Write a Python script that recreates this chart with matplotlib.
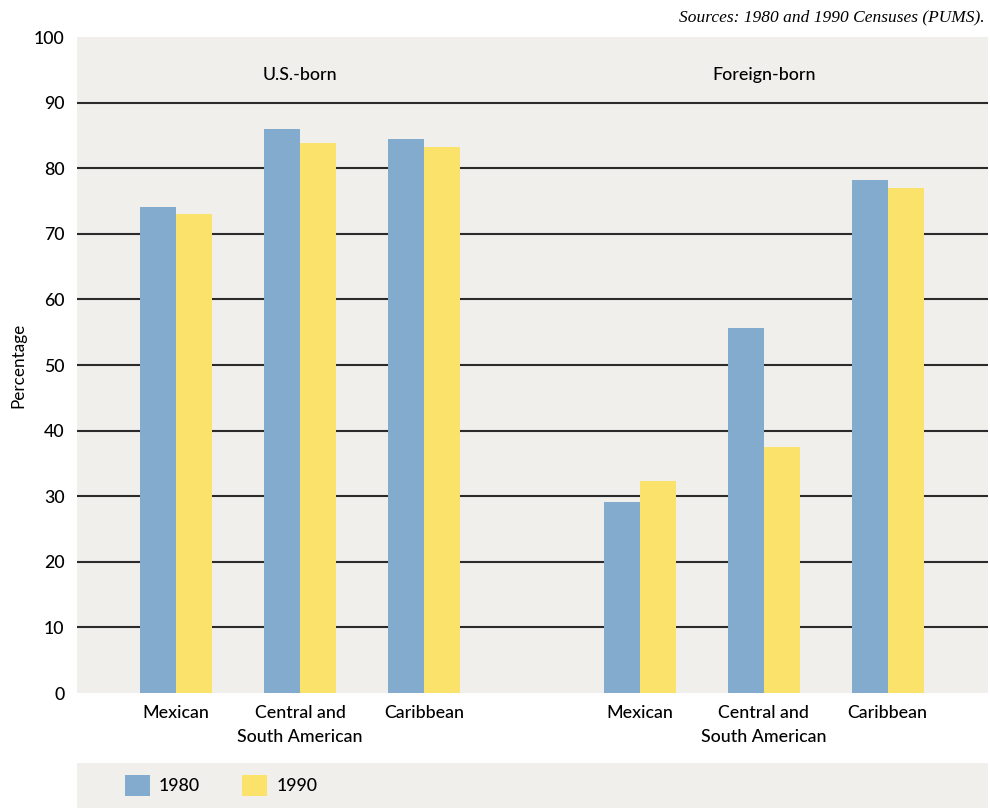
import matplotlib
matplotlib.use('Agg')
import matplotlib.pyplot as plt
import numpy as np

plt.rcParams['font.family'] = ['Lato', 'DejaVu Sans']
plt.rcParams['font.weight'] = 'medium'

groups = ['U.S.-born', 'Foreign-born']
categories = ['Mexican', 'Central and\nSouth American', 'Caribbean']
years = ['1980', '1990']
us_1980 = [74.1, 86.0, 84.5]
us_1990 = [73.0, 83.8, 83.2]
fb_1980 = [29.1, 55.6, 78.2]
fb_1990 = [32.3, 37.5, 77.0]

blue = '#82abcd'
yellow = '#fbe26a'
bg = '#f0efeb'

# category centres: two groups of three with a wider gap between them
pos = np.array([0, 1, 2, 3.74, 4.74, 5.74])
vals_1980 = us_1980 + fb_1980
vals_1990 = us_1990 + fb_1990
w = 0.29

fig = plt.figure(figsize=(9.9, 8.08), dpi=100)
ax = fig.add_axes([77/990, 115/808, 911/990, 656/808])
ax.set_facecolor(bg)

ax.hlines(np.arange(10, 100, 10), -0.8, 6.55, color='#2b2b2b', lw=1.5, zorder=1)
b1 = ax.bar(pos - w/2, vals_1980, w, color=blue, zorder=2, label=years[0])
b2 = ax.bar(pos + w/2, vals_1990, w, color=yellow, zorder=2, label=years[1])

ax.set_xlim(-0.8, 6.55)
ax.set_ylim(0, 100)
ax.set_yticks(np.arange(0, 101, 10))
ax.set_xticks(pos)
ax.set_xticklabels(categories * 2, fontsize=12.8, linespacing=1.55)
ax.tick_params(axis='both', length=0, labelsize=12.8)
ax.tick_params(axis='y', pad=9)
ax.tick_params(axis='x', pad=9)
for s in ax.spines.values():
    s.set_visible(False)

ax.set_ylabel('Percentage', fontsize=12.3)
ax.yaxis.set_label_coords(-0.056, 0.5)

ax.text(pos[1], 94.2, groups[0], ha='center', va='center', fontsize=12.8)
ax.text(pos[4], 94.2, groups[1], ha='center', va='center', fontsize=12.8)

fig.text(0.995, 0.979, 'Sources: 1980 and 1990 Censuses (PUMS).', ha='right', va='center',
         fontsize=12.5, style='italic', family='Liberation Serif')

# legend band
lax = fig.add_axes([77/990, 0, 911/990, 45/808])
lax.set_facecolor(bg)
lax.set_xticks([])
lax.set_yticks([])
for s in lax.spines.values():
    s.set_visible(False)
lax.legend(handles=[b1, b2], loc='center left', bbox_to_anchor=(0.035, 0.5), ncol=2,
           frameon=False, fontsize=12.8, handlelength=1.4, handleheight=1.4,
           handletextpad=0.5, columnspacing=2.4)

fig.savefig('out.png', dpi=100)
